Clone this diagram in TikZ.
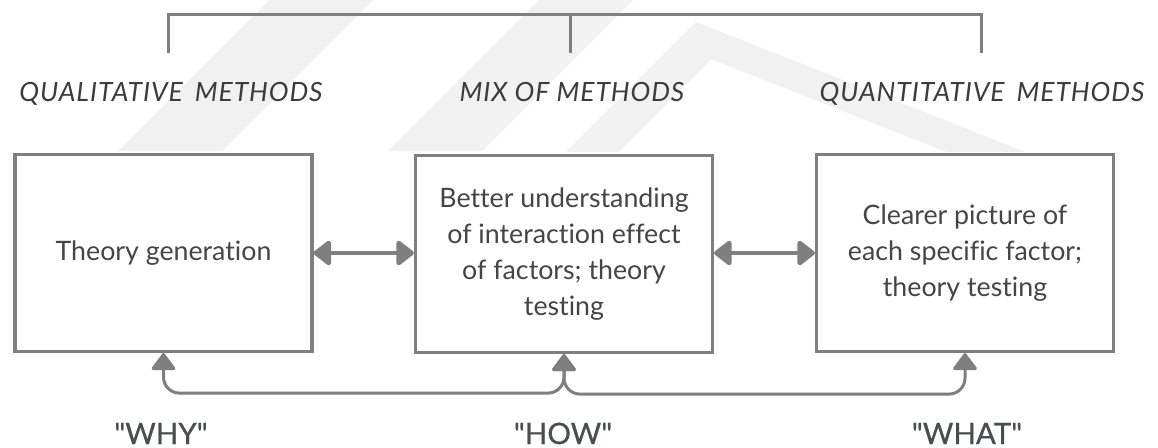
\documentclass[tikz,border=0pt]{standalone}
\usepackage{fontspec}
\setmainfont{Lato}[Ligatures={TeX,NoCommon}]
\newfontfamily\headfont{Lato}[Ligatures={TeX,NoCommon},LetterSpace=3.5]
\newfontfamily\quotefont{Lato}[FakeBold=0.7]
\usetikzlibrary{arrows.meta}

\definecolor{linegrey}{HTML}{7F7F7F}
\definecolor{textgrey}{HTML}{454545}
\definecolor{headgrey}{HTML}{3C3C3C}
\definecolor{quotegrey}{HTML}{4A4D52}
\definecolor{markgrey}{HTML}{F1F1F1}

\begin{document}
\begin{tikzpicture}[x=1pt,y=-1pt,
  box/.style={draw=linegrey, line width=3.2pt, fill=white,
    minimum width=297pt, minimum height=197pt, inner sep=0pt,
    text=textgrey, align=center, font=\fontsize{26.75}{36}\selectfont},
  heading/.style={text=headgrey, inner sep=0pt, anchor=base,
    font=\fontsize{26.5}{30}\headfont\itshape},
  quotelabel/.style={text=quotegrey, inner sep=0pt, anchor=base, text depth=0pt,
    font=\fontsize{29.5}{30}\quotefont},
  bracket/.style={draw=linegrey, line width=3pt},
  twoway/.style={draw=linegrey, line width=4.5pt,
    {Triangle[length=19pt,width=28pt,round]}-{Triangle[length=19pt,width=28pt,round]}},
  feedback/.style={draw=linegrey, line width=3pt, rounded corners=16pt,
    {Triangle[length=18pt,width=26pt,round]}-{Triangle[length=18pt,width=26pt,round]}},
]
% canvas and background
\useasboundingbox (0,0) rectangle (1158,447);
\fill[white] (0,0) rectangle (1158,447);

% faint chevron bands behind the headings
\begin{scope}
  \clip (0,0) rectangle (1158,151);
  \fill[markgrey] (118,151) -- (222,151) -- (383,-10) -- (279,-10) -- cycle;
  \fill[markgrey] (388,151) -- (482,151) -- (643,-10) -- (549,-10) -- cycle;
  \fill[markgrey] (563,155) -- (696,22) -- (1033,155) -- (954,155)
                  -- (711,59) -- (615,155) -- cycle;
\end{scope}

% top bracket joining the three approaches
\coordinate (t1) at (168,53);
\coordinate (t2) at (570,53);
\coordinate (t3) at (981,53);
\draw[bracket] (t1) -- (168,14) -- (981,14) -- (t3);
\draw[bracket] (570,14) -- (t2);

% headings
\node[heading] (h1) at (171,101) {QUALITATIVE\hspace{0.45em}METHODS};
\node[heading] (h2) at (572,101) {MIX OF METHODS};
\node[heading] (h3) at (982,101) {QUANTITATIVE\hspace{0.45em}METHODS};

% boxes
\node[box] (L) at (163.5,253) {Theory generation};
\node[box] (M) at (564,254) {Better understanding\\of interaction effect\\of factors; theory\\testing};
\node[box] (R) at (965,253) {Clearer picture of\\each specific factor;\\theory testing};

% two-way links between neighbouring boxes
\draw[twoway] (L.east) -- (M.west |- L.east);
\draw[twoway] (M.east |- R.west) -- (R.west);

% feedback links along the bottom
\draw[feedback] (L.south) -- ++(0,40) -| (M.south);
\draw[feedback] (M.south) -- ++(0,40) -| (R.south);

% question labels
\node[quotelabel] (q1) at (161,444) {"WHY"};
\node[quotelabel] (q2) at (563,444) {"HOW"};
\node[quotelabel] (q3) at (967,444) {"WHAT"};
\end{tikzpicture}
\end{document}
